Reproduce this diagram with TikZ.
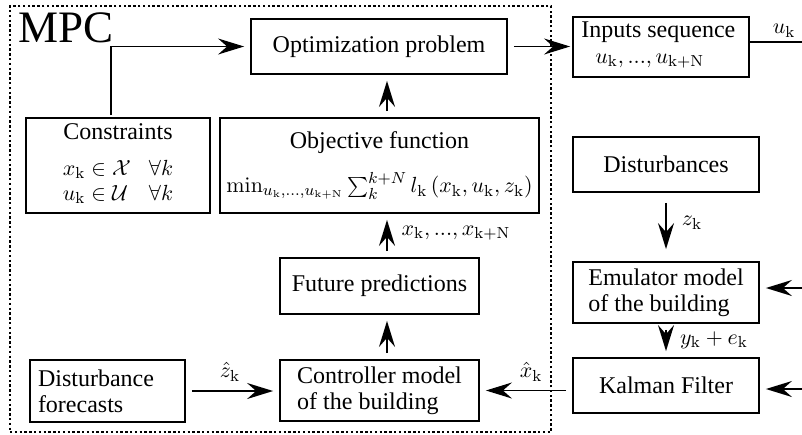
\documentclass[tikz,border=0pt]{standalone}
\usepackage[no-math]{fontspec}
\setmainfont{Liberation Serif}
\usetikzlibrary{arrows.meta,calc}
\newcommand{\sk}{\mathrm{k}}
\newcommand{\mymath}[1]{{\fontsize{11}{13}\selectfont$#1$}}
\begin{document}
\begin{tikzpicture}[x=0.5pt,y=-0.5pt,
  font=\fontsize{12}{13}\selectfont,
  blk/.style={draw,line width=0.9pt,inner sep=0pt,align=center},
  conn/.style={line width=0.9pt,-{Stealth[length=13pt,width=8pt,inset=4.5pt]},shorten >=3pt,shorten <=3pt},
  lab/.style={inner sep=0pt}]
\useasboundingbox (0,0) rectangle (802,434);

% dotted MPC frame
\node[draw,dash pattern=on 1.2pt off 1.2pt,line width=0.8pt,minimum width=270.5pt,minimum height=213pt,inner sep=0pt] (mpc) at (280.5,219) {};
\node[lab,anchor=base west,font=\fontsize{22.5}{22.5}\selectfont] (mpclab) at (18,42) {MPC};

% blocks
\node[blk,minimum width=128pt,minimum height=27.5pt] (opt) at (379,46.5) {Optimization problem};
\node[blk,minimum width=88pt,minimum height=30pt] (inp) at (661,47) {};
\node[lab,anchor=base west] (inptxt) at (581,37) {Inputs sequence};
\node[lab,anchor=base west] (inpmath) at (595,63) {\mymath{u_\sk, ..., u_{\mathrm{k+N}}}};

\node[blk,minimum width=92pt,minimum height=47.5pt] (con) at (118,165.5)
  {Constraints\\[5pt]{\fontsize{11}{12.5}\selectfont\begin{tabular}[t]{@{}l@{\hspace{9pt}}l@{}} $x_\sk\in\mathcal{X}$ & $\forall k$\\ $u_\sk\in\mathcal{U}$ & $\forall k$\end{tabular}}};
\node[blk,minimum width=159.5pt,minimum height=47.5pt] (obj) at (379.5,165.5)
  {Objective function\\[9pt]\mymath{\min_{u_\sk,\ldots,u_{\mathrm{k+N}}}\sum_{k}^{k+N} l_\sk\left(x_\sk,u_\sk,z_\sk\right)}};
\node[blk,minimum width=99.5pt,minimum height=28pt] (fut) at (379.5,286) {Future predictions};
\node[blk,minimum width=99.5pt,minimum height=30.5pt,align=left] (ctl) at (379.5,390.5) {Controller model\\of the building};
\node[blk,minimum width=77.5pt,minimum height=31pt,align=left,text width=69.5pt] (fc) at (107.5,391) {Disturbance\\forecasts};

\node[blk,minimum width=93pt,minimum height=27.5pt] (dis) at (666,164.5) {Disturbances};
\node[blk,minimum width=93pt,minimum height=30.5pt,align=left] (emu) at (666,292.5) {Emulator model\\of the building};
\node[blk,minimum width=93pt,minimum height=27.5pt] (kal) at (666,385.5) {Kalman Filter};

% helper coordinates
\coordinate (colx) at (387,0);
\coordinate (cup) at (111,0);
\coordinate (uout) at (802,42);
\coordinate (emuin) at (802,288);
\coordinate (kalin) at (802,389);

% connectors
\draw[conn,shorten <=1pt] (con.north -| cup) |- (opt.west);
\draw[conn] (obj.north -| colx) -- (opt.south -| colx);
\draw[conn] (fut.north -| colx) -- (obj.south -| colx);
\draw[conn] (ctl.north -| colx) -- (fut.south -| colx);
\draw[conn] (fc.east) -- (ctl.west |- fc.east);
\draw[conn] (kal.west |- ctl.east) -- (ctl.east);
\draw[conn,shorten >=1pt] (opt.east) -- (inp.west |- opt.east);
\draw[line width=0.9pt] (inp.east |- uout) -- (uout);
\draw[conn,shorten <=5pt,shorten >=6pt] (dis.south) -- (emu.north);
\draw[conn] (emu.south) -- (kal.north);
\draw[conn,shorten <=0pt] (emuin) -- (emu.east |- emuin);
\draw[conn,shorten <=0pt] (kalin) -- (kal.east |- kalin);

% labels
\node[lab] (ulab) at (784,31) {\mymath{u_\sk}};
\node[lab] (zlab) at (692,223) {\mymath{z_\sk}};
\node[lab] (ylab) at (714,340) {\mymath{y_\sk+e_\sk}};
\node[lab] (zhlab) at (230,372) {\mymath{\hat z_\sk}};
\node[lab] (xhlab) at (531,372) {\mymath{\hat x_\sk}};
\node[lab] (xlab) at (456,233) {\mymath{x_\sk, ..., x_{\mathrm{k+N}}}};
\end{tikzpicture}
\end{document}
